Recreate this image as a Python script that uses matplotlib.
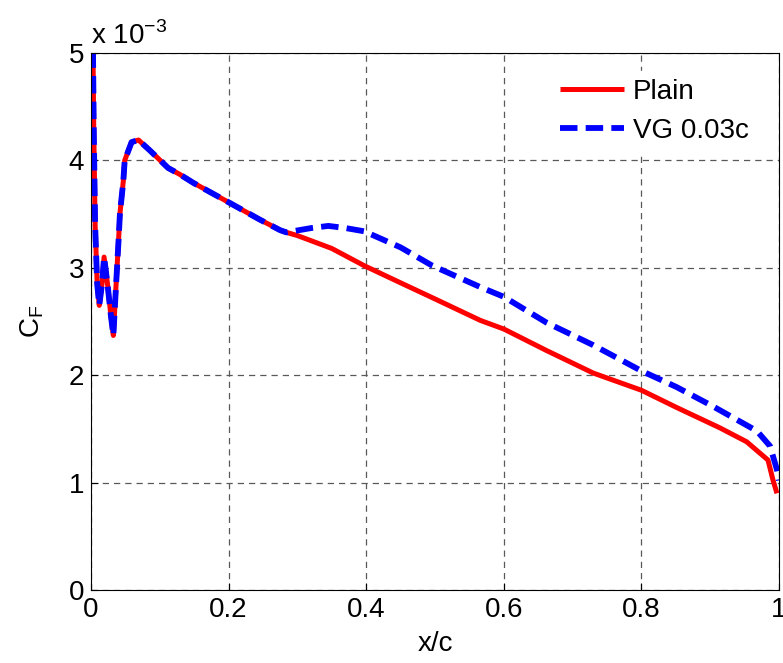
import numpy as np
import matplotlib
matplotlib.use("Agg")
import matplotlib.pyplot as plt

plt.rcParams['font.family'] = ['Liberation Sans', 'DejaVu Sans']
plt.rcParams['font.size'] = 20

# skin friction coefficient, values in units of 1e-3
x_plain = [0.002, 0.004, 0.006, 0.009, 0.012, 0.016, 0.019, 0.024, 0.029, 0.0325,
           0.036, 0.040, 0.042, 0.047, 0.049, 0.059, 0.069, 0.086, 0.112, 0.129,
           0.149, 0.2, 0.245, 0.275, 0.284, 0.3, 0.35, 0.397, 0.45, 0.5,
           0.566, 0.6, 0.662, 0.73, 0.8, 0.851, 0.914, 0.953, 0.984, 0.991, 0.997]
cf_plain = [5.6, 4.3, 3.4, 2.85, 2.65, 2.85, 3.10, 2.85, 2.55, 2.37,
            2.79, 3.25, 3.50, 3.81, 4.00, 4.17, 4.19, 4.09, 3.93, 3.87,
            3.79, 3.61, 3.45, 3.35, 3.33, 3.30, 3.18, 3.02, 2.86, 2.71,
            2.51, 2.43, 2.23, 2.02, 1.86, 1.70, 1.51, 1.38, 1.21, 1.03, 0.90]

x_vg = [0.002, 0.004, 0.006, 0.009, 0.012, 0.016, 0.019, 0.024, 0.029, 0.0325,
        0.036, 0.040, 0.042, 0.047, 0.049, 0.059, 0.069, 0.086, 0.112, 0.129,
        0.149, 0.2, 0.245, 0.275, 0.284, 0.32, 0.345, 0.37, 0.397, 0.45,
        0.496, 0.566, 0.6, 0.662, 0.73, 0.8, 0.851, 0.904, 0.968, 0.987, 0.997, 1.0]
cf_vg = [5.6, 4.3, 3.4, 2.85, 2.65, 2.85, 3.10, 2.85, 2.55, 2.37,
         2.79, 3.25, 3.50, 3.81, 4.00, 4.17, 4.19, 4.09, 3.93, 3.87,
         3.79, 3.61, 3.45, 3.35, 3.33, 3.37, 3.39, 3.37, 3.34, 3.19,
         3.02, 2.82, 2.73, 2.49, 2.28, 2.04, 1.89, 1.71, 1.48, 1.34, 1.12, 1.02]

fig = plt.figure(figsize=(7.83, 6.63), dpi=100)
ax = fig.add_axes([91 / 783, 73 / 663, 688 / 783, 537 / 663])

ax.plot(x_plain, cf_plain, color='red', lw=3.6, label='Plain', solid_capstyle='butt')
ax.plot(x_vg, cf_vg, color='blue', lw=4.2, ls=(0, (3.0, 1.4)), label='VG 0.03c',
        dash_capstyle='butt')

ax.set_xlim(0, 1)
ax.set_ylim(0, 5)
ax.set_xticks([0, 0.2, 0.4, 0.6, 0.8, 1])
ax.set_xticklabels(['0', '0.2', '0.4', '0.6', '0.8', '1'])
ax.set_yticks([0, 1, 2, 3, 4, 5])
ax.tick_params(direction='in', length=5, width=0.8, pad=5)
ax.grid(True, color='0.35', lw=0.9, ls=(0, (5, 4)))
ax.set_axisbelow(True)

ax.set_xlabel('x/c', labelpad=6)
ax.set_ylabel(r'C$_\mathregular{F}$', labelpad=16)
ax.text(0.0, 1.005, r'x 10$^\mathregular{-3}$', transform=ax.transAxes,
        ha='left', va='bottom')

leg = ax.legend(loc='upper left', bbox_to_anchor=(0.67, 0.967), frameon=True,
                fancybox=False, edgecolor='white', framealpha=1,
                handlelength=2.3, handletextpad=0.3, labelspacing=0.45,
                borderpad=0.3, borderaxespad=0)

fig.savefig('out.png', dpi=100)
